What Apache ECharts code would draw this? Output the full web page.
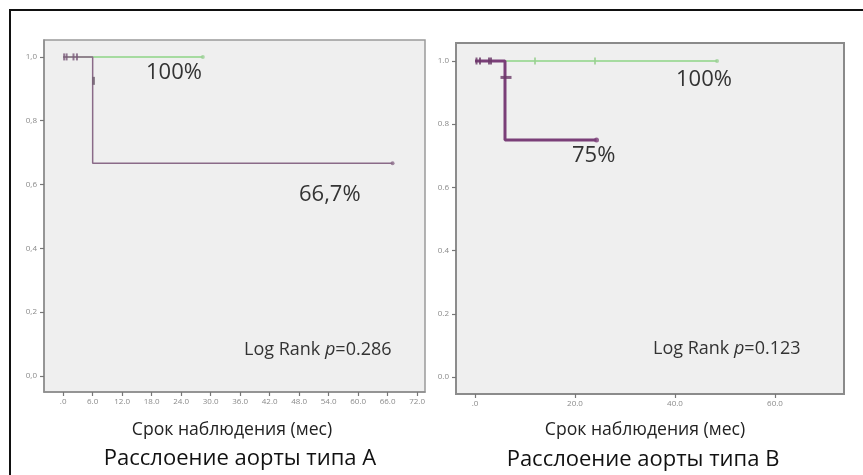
<!DOCTYPE html>
<html><head><meta charset="utf-8">
<script src="https://cdn.jsdelivr.net/npm/echarts@6/dist/echarts.min.js"></script>
<style>html,body{margin:0;padding:0;background:#fff}#c{width:863px;height:475px}</style>
</head><body><div id="c"></div>
<script>
// ---- data ----
const yTicks = [0, 0.2, 0.4, 0.6, 0.8, 1.0];
const xTicksA = [0, 6, 12, 18, 24, 30, 36, 42, 48, 54, 60, 66, 72];
const xTicksB = [0, 20, 40, 60];

// Type A dissection (months, survival)
const aGreenT = [0, 28.4];
const aGreenS = [1, 1];
const aPurpleT = [0, 6, 6, 67];
const aPurpleS = [1, 1, 0.667, 0.667];
const aPurpleCensT = [0.2, 0.7, 2.1, 2.8];
const aPurpleCensS = [1, 1, 1, 1];
const aPurpleDropCensT = [6.2];
const aPurpleDropCensS = [0.925];
const aEndT = [28.4, 67];
const aEndS = [1, 0.667];

// Type B dissection
const bGreenT = [0, 48.4];
const bGreenS = [1, 1];
const bGreenCensT = [12, 24];
const bGreenCensS = [1, 1];
const bPurpleT = [0, 6, 6, 24.3];
const bPurpleS = [1, 1, 0.75, 0.75];
const bPurpleCensT = [0.3, 1.0, 2.8, 3.2];
const bPurpleCensS = [1, 1, 1, 1];
const bPurpleDropCensT = [6.2];
const bPurpleDropCensS = [0.948];
const bEndT = [48.4, 24.3];
const bEndS = [1, 0.75];

const zip = (t, s) => t.map((v, i) => [v, s[i]]);

const FONT = '"Open Sans", "Noto Sans", sans-serif';
const fmtX = v => v === 0 ? '.0' : v.toFixed(1);

function xAxis(gi, min, max, ticks) {
  return {
    type: 'value', gridIndex: gi, min: min, max: max,
    axisLine: { show: true, onZero: false, lineStyle: { color: '#8c8c8c', width: 1.5 } },
    axisTick: { show: true, inside: false, length: 4, customValues: ticks, lineStyle: { color: '#777', width: 1.2 } },
    axisLabel: { customValues: ticks, formatter: fmtX, fontSize: 8, color: '#8a8a8a', margin: 6, fontFamily: FONT },
    splitLine: { show: false }
  };
}
function yAxis(gi, min, max, sep) {
  return {
    type: 'value', gridIndex: gi, min: min, max: max,
    axisLine: { show: true, onZero: false, lineStyle: { color: '#8c8c8c', width: 1.5 } },
    axisTick: { show: true, inside: false, length: 4, customValues: yTicks, lineStyle: { color: '#777', width: 1.2 } },
    axisLabel: { customValues: yTicks, formatter: v => v.toFixed(1).replace('.', sep), fontSize: 8, color: '#8a8a8a', margin: 7, fontFamily: FONT },
    splitLine: { show: false }
  };
}
const censV = (gi, t, s, color) => ({
  type: 'scatter', xAxisIndex: gi, yAxisIndex: gi, data: zip(t, s),
  symbol: 'rect', symbolSize: [2, 7], itemStyle: { color: color }, z: 5, silent: true
});

const TXT = '#333';
const chart = echarts.init(document.getElementById('c'), null, { renderer: 'canvas' });
chart.setOption({
  animation: false,
  backgroundColor: '#fff',
  grid: [
    { left: 44, top: 40, width: 381, height: 352, show: true, backgroundColor: '#efefef', borderColor: '#9a9a9a', borderWidth: 1.5 },
    { left: 456, top: 43, width: 388, height: 351, show: true, backgroundColor: '#efefef', borderColor: '#8a8a8a', borderWidth: 2 }
  ],
  xAxis: [xAxis(0, -3.9, 73.6, xTicksA), xAxis(1, -3.8, 73.8, xTicksB)],
  yAxis: [yAxis(0, -0.05, 1.053, ','), yAxis(1, -0.054, 1.057, '.')],
  series: [
    // Type A
    { type: 'line', xAxisIndex: 0, yAxisIndex: 0, data: zip(aGreenT, aGreenS), showSymbol: false, lineStyle: { color: '#a6dba0', width: 2 }, z: 2 },
    { type: 'line', xAxisIndex: 0, yAxisIndex: 0, data: zip(aPurpleT, aPurpleS), showSymbol: false, lineStyle: { color: '#8a6a88', width: 1.5 }, z: 3 },
    censV(0, aPurpleCensT, aPurpleCensS, '#7a5a7a'),
    { type: 'scatter', xAxisIndex: 0, yAxisIndex: 0, data: zip(aPurpleDropCensT, aPurpleDropCensS), symbol: 'rect', symbolSize: [2.5, 8], itemStyle: { color: '#6a5a6a' }, z: 5 },
    { type: 'scatter', xAxisIndex: 0, yAxisIndex: 0, data: [[aEndT[0], aEndS[0]]], symbol: 'circle', symbolSize: 4, itemStyle: { color: '#9acf94' }, z: 5 },
    { type: 'scatter', xAxisIndex: 0, yAxisIndex: 0, data: [[aEndT[1], aEndS[1]]], symbol: 'circle', symbolSize: 4, itemStyle: { color: '#8a6a88' }, z: 5 },
    // Type B
    { type: 'line', xAxisIndex: 1, yAxisIndex: 1, data: zip(bGreenT, bGreenS), showSymbol: false, lineStyle: { color: '#a6dba0', width: 2 }, z: 2 },
    censV(1, bGreenCensT, bGreenCensS, '#98cf90'),
    { type: 'line', xAxisIndex: 1, yAxisIndex: 1, data: zip(bPurpleT, bPurpleS), showSymbol: false, lineStyle: { color: '#7a3f78', width: 3 }, z: 3 },
    censV(1, bPurpleCensT, bPurpleCensS, '#6a3a68'),
    { type: 'scatter', xAxisIndex: 1, yAxisIndex: 1, data: zip(bPurpleDropCensT, bPurpleDropCensS), symbol: 'rect', symbolSize: [11, 3], itemStyle: { color: '#6a3a68' }, z: 5 },
    { type: 'scatter', xAxisIndex: 1, yAxisIndex: 1, data: [[bEndT[0], bEndS[0]]], symbol: 'circle', symbolSize: 4, itemStyle: { color: '#9acf94' }, z: 5 },
    { type: 'scatter', xAxisIndex: 1, yAxisIndex: 1, data: [[bEndT[1], bEndS[1]]], symbol: 'circle', symbolSize: 5, itemStyle: { color: '#7a3f78' }, z: 5 }
  ],
  graphic: [
    { type: 'polyline', shape: { points: [[10, 476], [10, 10], [864, 10]] }, style: { stroke: '#111', lineWidth: 2, fill: null } },
    // Type A texts
    { type: 'text', left: 146, top: 62, style: { text: '100%', fontSize: 22, fill: TXT, fontFamily: FONT } },
    { type: 'text', left: 299, top: 184, style: { text: '66,7%', fontSize: 22, fill: TXT, fontFamily: FONT } },
    { type: 'text', left: 244, top: 341, style: { rich: { n: { fontSize: 18, fill: TXT, fontFamily: FONT }, i: { fontSize: 18, fill: TXT, fontFamily: FONT, fontStyle: 'italic' } }, text: '{n|Log Rank }{i|p}{n|=0.286}' } },
    { type: 'text', x: 232, y: 430, style: { text: 'Срок наблюдения (мес)', fontSize: 17.6, fill: '#222', fontFamily: FONT, align: 'center', verticalAlign: 'middle' } },
    { type: 'text', x: 240, y: 459, style: { text: 'Расслоение аорты типа А', fontSize: 22, fill: '#111', fontFamily: FONT, align: 'center', verticalAlign: 'middle' } },
    // Type B texts
    { type: 'text', left: 676, top: 69, style: { text: '100%', fontSize: 22, fill: TXT, fontFamily: FONT } },
    { type: 'text', left: 572, top: 145, style: { text: '75%', fontSize: 22, fill: TXT, fontFamily: FONT } },
    { type: 'text', left: 653, top: 340, style: { rich: { n: { fontSize: 18, fill: TXT, fontFamily: FONT }, i: { fontSize: 18, fill: TXT, fontFamily: FONT, fontStyle: 'italic' } }, text: '{n|Log Rank }{i|p}{n|=0.123}' } },
    { type: 'text', x: 645, y: 430, style: { text: 'Срок наблюдения (мес)', fontSize: 17.6, fill: '#222', fontFamily: FONT, align: 'center', verticalAlign: 'middle' } },
    { type: 'text', x: 643, y: 460, style: { text: 'Расслоение аорты типа B', fontSize: 22, fill: '#111', fontFamily: FONT, align: 'center', verticalAlign: 'middle' } }
  ]
});
</script></body></html>
